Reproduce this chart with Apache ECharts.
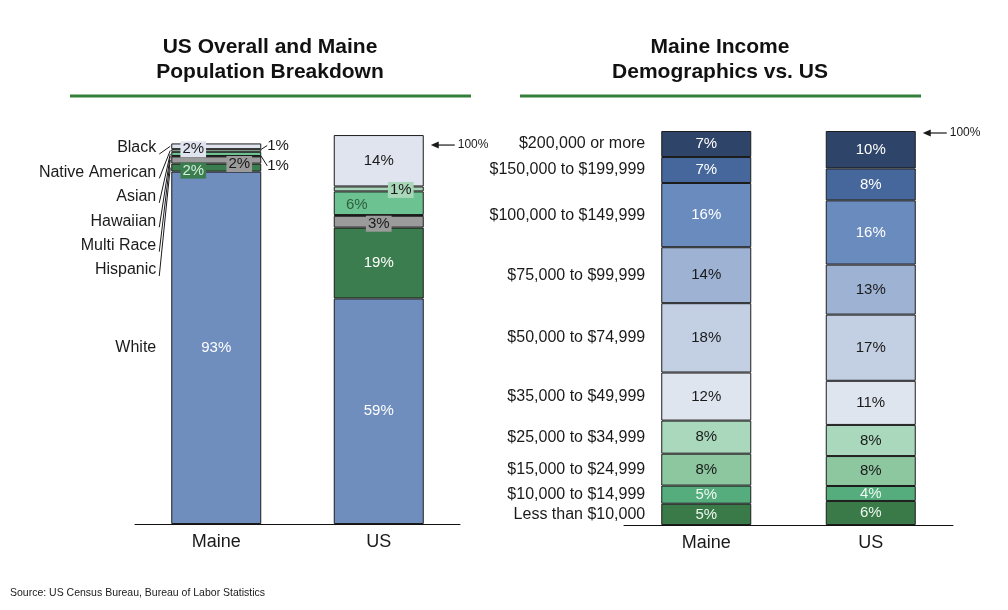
<!DOCTYPE html>
<html>
<head>
<meta charset="utf-8">
<script src="https://cdn.jsdelivr.net/npm/echarts@6/dist/echarts.min.js"></script>
<style>
html,body{margin:0;padding:0;background:#fff;}
#chart{width:1008px;height:610px;}
</style>
</head>
<body>
<div id="chart"></div>
<script>
// ---------- DATA ----------
const categories = ['Maine', 'US'];
const races = ['White', 'Hispanic', 'Multi Race', 'Hawaiian', 'Asian', 'Native American', 'Black'];
const mainePop = [92.5, 2.1, 1.9, 0.1, 1.1, 0.7, 1.5];
const usPop = [59.2, 18.6, 3.1, 0.2, 6.2, 1.3, 13.5];

const incomeBands = ['Less than $10,000', '$10,000 to $14,999', '$15,000 to $24,999', '$25,000 to $34,999',
  '$35,000 to $49,999', '$50,000 to $74,999', '$75,000 to $99,999', '$100,000 to $149,999',
  '$150,000 to $199,999', '$200,000 or more'];
const maineIncome = [5.4, 4.6, 8.1, 8.4, 12.2, 17.6, 14.2, 16.3, 6.6, 6.6];
const usIncome = [6.1, 3.8, 7.6, 7.9, 11.2, 16.8, 12.7, 16.3, 8.1, 9.5];

const refLevel = 100;

// ---------- STYLE ----------
const FONT = 'Arial, "Liberation Sans", sans-serif';
const TXT = '#1a1a1a';
const BORDER = '#1c1c1c';
const BAR_W = 90;
const popColors = ['#6f8ebe', '#3b7d4f', '#9b9b9b', '#222222', '#6cc291', '#a8d8b9', '#dfe4ef'];
const incomeColors = ['#3a7a48', '#55ad7e', '#8cc7a0', '#a9d8bd', '#dfe5ef', '#c3cfe3', '#9eb2d3', '#6a8bbd', '#45679b', '#2e4468'];
const incomeLabelColors = ['#eef8f1', '#eef8f1', '#1a1a1a', '#1a1a1a', '#1a1a1a', '#1a1a1a', '#1a1a1a', '#ffffff', '#ffffff', '#ffffff'];

const pct = v => Math.round(v) + '%';

// label style per [race][category]
function popLabel(ri, ci) {
  const base = { show: true, position: 'inside', fontSize: 15, fontFamily: FONT, color: TXT, formatter: p => pct(p.value) };
  const m = [
    [{ color: '#fff' }, { color: '#fff' }],
    [{ color: '#d4f0dc', backgroundColor: '#3b7d4f', padding: [1, 2, 0, 2] }, { color: '#fff' }],
    [{ backgroundColor: '#9b9b9b', padding: [1, 2, 0, 2] }, { backgroundColor: '#9b9b9b', padding: [1, 2, 0, 2] }],
    [{ show: false }, { show: false }],
    [{ position: 'right', distance: 6 }, { color: '#2d5e3e' }],
    [{ position: 'right', distance: 6 }, { backgroundColor: '#a8d8b9', padding: [1, 2, 0, 2] }],
    [{ backgroundColor: '#dfe4ef', padding: [1, 2, 0, 2] }, {}]
  ];
  return Object.assign({}, base, m[ri][ci]);
}
// label shifts [dx, dy] per [race][category]
const popShift = [
  [[0, 0], [0, 0]],
  [[-23, 3], [0, 0]],
  [[23, 4], [0, 2]],
  [[0, 0], [0, 0]],
  [[0, 12], [-22, 2]],
  [[0, -5], [22, 1]],
  [[-23, 3], [0, 0]]
];

const popSeries = races.map((r, ri) => ({
  name: r,
  type: 'bar',
  stack: 'pop',
  xAxisIndex: 0, yAxisIndex: 0,
  barWidth: BAR_W,
  itemStyle: { color: popColors[ri], borderColor: BORDER, borderWidth: 1 },
  data: [mainePop[ri], usPop[ri]].map((v, ci) => ({
    value: v,
    label: popLabel(ri, ci),
    labelLine: { show: ci === 0 && (ri === 4 || ri === 5), lineStyle: { color: TXT, width: 1 } }
  })),
  labelLayout: p => ({ dx: popShift[ri][p.dataIndex][0], dy: popShift[ri][p.dataIndex][1] }),
  silent: true,
  animation: false
}));

const incomeSeries = incomeBands.map((b, bi) => ({
  name: b,
  type: 'bar',
  stack: 'inc',
  xAxisIndex: 1, yAxisIndex: 1,
  barWidth: BAR_W,
  itemStyle: { color: incomeColors[bi], borderColor: BORDER, borderWidth: 1 },
  label: { show: true, position: 'inside', fontSize: 15, fontFamily: FONT, color: incomeLabelColors[bi], formatter: p => pct(p.value) },
  data: [maineIncome[bi], usIncome[bi]],
  silent: true,
  animation: false
}));

// cumulative ranges for the Maine bars (for name labels)
function ranges(vals) {
  let c = 0;
  return vals.map(v => { const r = [0, c, c + v]; c += v; return r; });
}

const topOrder = ['Black', 'Native American', 'Asian', 'Hawaiian', 'Multi Race', 'Hispanic'];

const raceNames = {
  type: 'custom',
  xAxisIndex: 0, yAxisIndex: 0,
  data: ranges(mainePop),
  silent: true, animation: false, z: 10,
  renderItem: (params, api) => {
    const i = params.dataIndex;
    const mid = api.coord([0, (api.value(1) + api.value(2)) / 2]);
    const y100 = api.coord([0, refLevel])[1];
    const barLeft = mid[0] - BAR_W / 2;
    const name = races[i];
    const k = topOrder.indexOf(name);
    const ty = k < 0 ? mid[1] : y100 + 5 + k * 24.4;
    const tx = barLeft - 15;
    const children = [{
      type: 'text',
      style: { text: name, x: tx, y: ty, align: 'right', verticalAlign: 'middle', fill: TXT, font: '16px ' + FONT }
    }];
    if (k >= 0) {
      children.push({
        type: 'line',
        shape: { x1: tx + 3, y1: ty + 6, x2: barLeft - 1, y2: mid[1] },
        style: { stroke: TXT, lineWidth: 1 }
      });
    }
    return { type: 'group', children };
  }
};

const incomeNames = {
  type: 'custom',
  xAxisIndex: 1, yAxisIndex: 1,
  data: ranges(maineIncome),
  silent: true, animation: false, z: 10,
  renderItem: (params, api) => {
    const i = params.dataIndex;
    const mid = api.coord([0, (api.value(1) + api.value(2)) / 2]);
    return {
      type: 'text',
      style: { text: incomeBands[i], x: mid[0] - BAR_W / 2 - 16, y: mid[1], align: 'right', verticalAlign: 'middle', fill: TXT, font: '16px ' + FONT }
    };
  }
};

function refArrow(axisIdx) {
  return {
    type: 'custom',
    xAxisIndex: axisIdx, yAxisIndex: axisIdx,
    data: [[1, refLevel]],
    silent: true, animation: false, z: 10,
    renderItem: (params, api) => {
      const p = api.coord([1, api.value(1)]);
      const hx = p[0] + BAR_W / 2 + 7;
      const y = p[1] + 2;
      return {
        type: 'group',
        children: [
          { type: 'line', shape: { x1: hx + 5, y1: y, x2: hx + 24, y2: y }, style: { stroke: TXT, lineWidth: 1.2 } },
          { type: 'polygon', shape: { points: [[hx, y], [hx + 8, y - 3.5], [hx + 8, y + 3.5]] }, style: { fill: TXT } },
          { type: 'text', style: { text: refLevel + '%', x: hx + 27, y: y, verticalAlign: 'middle', fill: TXT, font: '12px ' + FONT } }
        ]
      };
    }
  };
}

const axisX = (gi) => ({
  type: 'category',
  gridIndex: gi,
  data: categories,
  axisLine: { lineStyle: { color: '#111', width: 1 } },
  axisTick: { show: false },
  axisLabel: { fontSize: 18, fontFamily: FONT, color: TXT, margin: 9 },
  splitLine: { show: false }
});

const option = {
  animation: false,
  grid: [
    { left: 135, width: 325, top: 124, height: 400 },
    { left: 624, width: 329, top: 131, height: 394 }
  ],
  xAxis: [axisX(0), axisX(1)],
  yAxis: [
    { type: 'value', gridIndex: 0, min: 0, max: 105, show: false },
    { type: 'value', gridIndex: 1, min: 0, max: 100, show: false }
  ],
  graphic: [
    { type: 'text', x: 270, y: 35, style: { text: 'US Overall and Maine\nPopulation Breakdown', align: 'center', verticalAlign: 'top', font: 'bold 21px ' + FONT, lineHeight: 25, fill: '#111' } },
    { type: 'text', x: 720, y: 35, style: { text: 'Maine Income\nDemographics vs. US', align: 'center', verticalAlign: 'top', font: 'bold 21px ' + FONT, lineHeight: 25, fill: '#111' } },
    { type: 'line', shape: { x1: 70, y1: 96, x2: 471, y2: 96 }, style: { stroke: '#34803a', lineWidth: 3 } },
    { type: 'line', shape: { x1: 520, y1: 96, x2: 921, y2: 96 }, style: { stroke: '#34803a', lineWidth: 3 } },
    { type: 'text', x: 10, y: 593, style: { text: 'Source: US Census Bureau, Bureau of Labor Statistics', verticalAlign: 'middle', font: '10.5px ' + FONT, fill: TXT } }
  ],
  series: [...popSeries, ...incomeSeries, raceNames, incomeNames, refArrow(0), refArrow(1)]
};

const chart = echarts.init(document.getElementById('chart'));
chart.setOption(option);
</script>
</body>
</html>
